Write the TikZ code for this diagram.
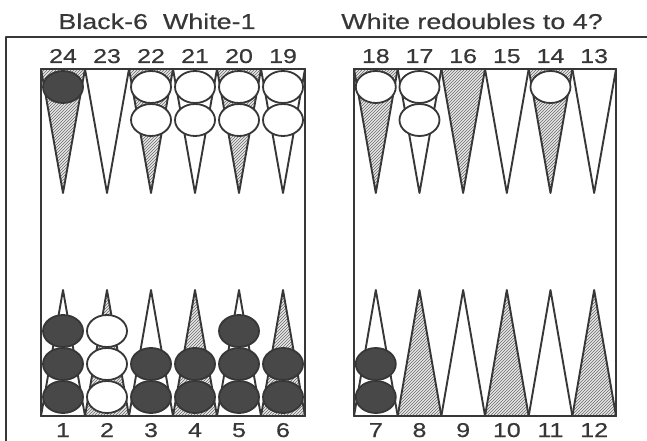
\documentclass[tikz,border=0pt]{standalone}
\usepackage{fontspec}
\setmainfont{Liberation Sans}[FakeStretch=1.25, FakeBold=0.5]
\usetikzlibrary{patterns}
\definecolor{ink}{RGB}{55,55,55}
\definecolor{stone}{RGB}{72,72,72}

\begin{document}
\begin{tikzpicture}[x=1pt, y=-1pt, line join=round,
  frameline/.style={draw=ink, line width=2pt},
  pointline/.style={draw=ink, line width=1.9pt},
  hatched/.style={pointline, preaction={fill=gray!18}, pattern=north east lines, pattern color=ink!75},
  plainpt/.style={pointline, fill=white},
  blackman/.style={draw=ink, line width=1.8pt, fill=stone},
  whiteman/.style={draw=ink, line width=1.8pt, fill=white},
  numlabel/.style={font=\fontsize{20}{20}\selectfont, text=ink, inner sep=0pt, anchor=base},
  titlelabel/.style={font=\fontsize{21.5}{22}\selectfont, text=ink, inner sep=0pt, anchor=base}]
\useasboundingbox (0,0) rectangle (647,441);

% titles
\node[titlelabel] (title) at (157,29) {Black-6~~White-1};
\node[titlelabel] (question) at (472,29) {White redoubles to 4?};

% outer frame
\draw[frameline] (6,441) -- (6,37) -- (647,37);

% boards
\draw[pointline, line width=1.8pt] (41,69) rectangle (305,416);
\draw[pointline, line width=1.8pt] (354,69) rectangle (616,416);

% top points
\foreach \n [count=\i from 0] in {24,23,22,21,20,19} {
  \pgfmathtruncatemacro{\odd}{mod(\n,2)}
  \ifnum\odd=0 \def\look{hatched}\else \def\look{plainpt}\fi
  \draw[\look] (41+44*\i,69) -- (63+44*\i,193) -- (85+44*\i,69) -- cycle;
  \node[numlabel] (n\n) at (63+44*\i,63) {\n};
}
\foreach \n [count=\i from 0] in {18,17,16,15,14,13} {
  \pgfmathtruncatemacro{\odd}{mod(\n,2)}
  \ifnum\odd=0 \def\look{hatched}\else \def\look{plainpt}\fi
  \draw[\look] (354+43.67*\i,69) -- (375.8+43.67*\i,193) -- (397.7+43.67*\i,69) -- cycle;
  \node[numlabel] (n\n) at (375.8+43.67*\i,63) {\n};
}

% bottom points
\foreach \n [count=\i from 0] in {1,2,3,4,5,6} {
  \pgfmathtruncatemacro{\odd}{mod(\n,2)}
  \ifnum\odd=0 \def\look{hatched}\else \def\look{plainpt}\fi
  \draw[\look] (41+44*\i,416) -- (63+44*\i,290) -- (85+44*\i,416) -- cycle;
  \node[numlabel] (n\n) at (63+44*\i,437) {\n};
}
\foreach \n [count=\i from 0] in {7,8,9,10,11,12} {
  \pgfmathtruncatemacro{\odd}{mod(\n,2)}
  \ifnum\odd=0 \def\look{hatched}\else \def\look{plainpt}\fi
  \draw[\look] (354+43.67*\i,416) -- (375.8+43.67*\i,290) -- (397.7+43.67*\i,416) -- cycle;
  \node[numlabel] (n\n) at (375.8+43.67*\i,437) {\n};
}

% checkers, top half
\foreach \i/\k/\c in {0/1/blackman, 2/2/whiteman, 3/2/whiteman, 4/2/whiteman, 5/2/whiteman}
  \foreach \j in {1,...,\k}
    \draw[\c] (63+44*\i,87+33*\j-33) ellipse (20 and 16);
\foreach \i/\k/\c in {0/1/whiteman, 1/2/whiteman, 4/1/whiteman}
  \foreach \j in {1,...,\k}
    \draw[\c] (375.8+43.67*\i,87+33*\j-33) ellipse (20 and 16);

% checkers, bottom half
\foreach \i/\k/\c in {0/3/blackman, 1/3/whiteman, 2/2/blackman, 3/2/blackman, 4/3/blackman, 5/2/blackman}
  \foreach \j in {1,...,\k}
    \draw[\c] (63+44*\i,397-33*\j+33) ellipse (20 and 16);
\foreach \i/\k/\c in {0/2/blackman}
  \foreach \j in {1,...,\k}
    \draw[\c] (375.8+43.67*\i,397-33*\j+33) ellipse (20 and 16);
\end{tikzpicture}
\end{document}
